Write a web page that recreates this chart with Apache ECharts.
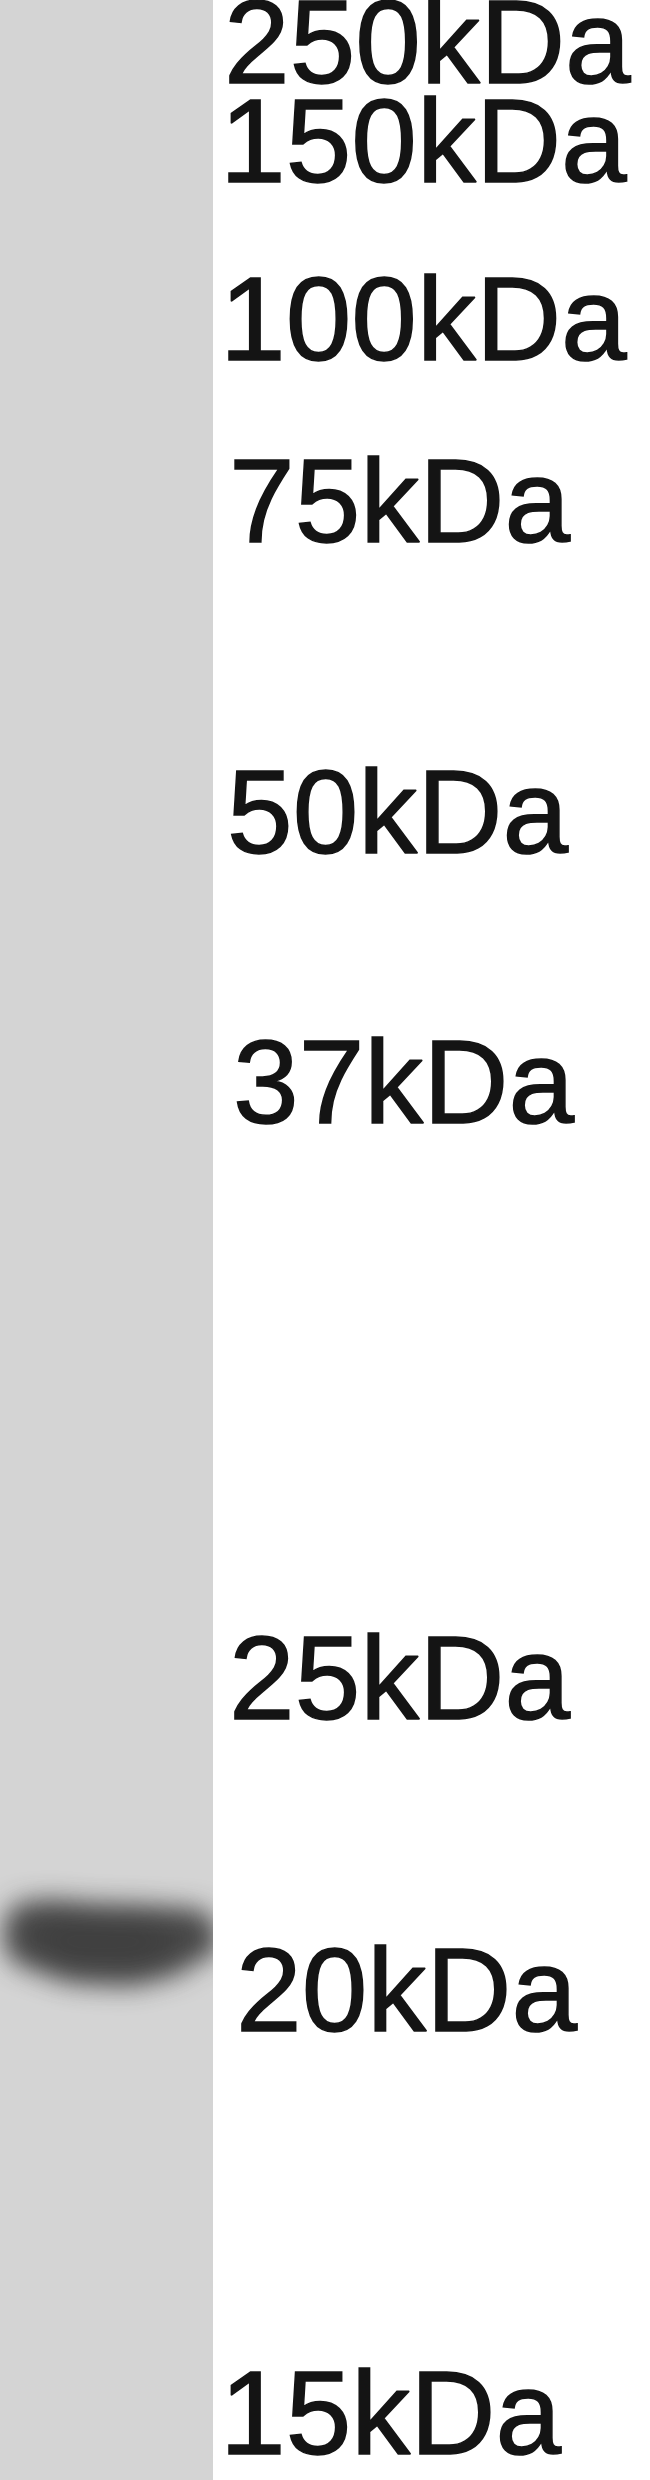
<!DOCTYPE html>
<html>
<head>
<meta charset="utf-8">
<script src="https://cdn.jsdelivr.net/npm/echarts@6/dist/echarts.min.js"></script>
<style>
  html, body { margin: 0; padding: 0; background: #fff; }
  #blot { width: 650px; height: 2480px; }
</style>
</head>
<body>
<div id="blot"></div>
<script>
// marker ladder, position = migration distance from top of the membrane (px)
var markerLabels = ['250kDa', '150kDa', '100kDa', '75kDa', '50kDa', '37kDa', '25kDa', '20kDa', '15kDa'];
var markerPositions = [50, 149, 327, 509, 820, 1090, 1686, 1998, 2421];

// bands detected in the lane
var bandPositions = [1938];
var bandIntensity = [0.82];

var LANE_LEFT = 0, LANE_RIGHT = 213;
// the ladder labels were not placed on one exact column
var labelLeft = [224, 220, 220, 229, 227, 233, 229, 236, 220];
var OFF = 1200; // band is drawn off-canvas, only its blurred shadow lands on the lane

var chart = echarts.init(document.getElementById('blot'), null, { devicePixelRatio: 1 });

function laneItem (params, api) {
  var a = api.coord([LANE_LEFT, 0]);
  var b = api.coord([LANE_RIGHT, 2480]);
  return {
    type: 'rect',
    shape: { x: a[0], y: a[1], width: b[0] - a[0], height: b[1] - a[1] },
    style: { fill: '#d4d4d4' }
  };
}

// outline of the band around its centre (x px, dy px)
var bandOutline = [
  [4, -2], [10, -25], [30, -36], [100, -33], [170, -30], [200, -27], [212, -18],
  [218, 0], [212, 18], [200, 22], [170, 38], [100, 46], [30, 30], [10, 18]
];
var bandCore = [
  [30, -4], [45, -20], [100, -22], [160, -18], [180, -4],
  [165, 22], [100, 30], [45, 22]
];

function blob (api, c, pts, alpha, blur) {
  var points = pts.map(function (p) {
    var x = api.coord([p[0], 0])[0];
    return [x - OFF, c + p[1]];
  });
  return {
    type: 'polygon',
    shape: { points: points, smooth: 0.6 },
    style: {
      fill: '#000',
      shadowBlur: blur,
      shadowOffsetX: OFF,
      shadowColor: 'rgba(44,44,44,' + alpha + ')'
    }
  };
}

function bandItem (params, api) {
  var pos = api.value(0);
  var k = api.value(1);
  var c = api.coord([0, pos])[1];
  return {
    type: 'group',
    children: [
      blob(api, c, bandOutline, k, 26),
      blob(api, c, bandCore, k * 0.42, 34)
    ]
  };
}

function maskItem (params, api) {
  var a = api.coord([LANE_RIGHT, 0]);
  var b = api.coord([650, 2480]);
  return {
    type: 'rect',
    shape: { x: a[0], y: a[1], width: b[0] - a[0], height: b[1] - a[1] },
    style: { fill: '#ffffff' }
  };
}

function labelItem (params, api) {
  var i = params.dataIndex;
  var p = api.coord([labelLeft[i], api.value(0)]);
  return {
    type: 'text',
    x: p[0],
    y: p[1],
    style: {
      text: markerLabels[i],
      fill: '#141414',
      stroke: '#141414',
      lineWidth: 1.5,
      font: '118px "Liberation Sans", Arial, sans-serif',
      align: 'left',
      verticalAlign: 'middle'
    }
  };
}

chart.setOption({
  animation: false,
  backgroundColor: '#ffffff',
  grid: { left: 0, right: 0, top: 0, bottom: 0 },
  xAxis: { type: 'value', min: 0, max: 650, show: false },
  yAxis: { type: 'value', min: 0, max: 2480, inverse: true, show: false },
  series: [
    { type: 'custom', renderItem: laneItem, data: [[0]], silent: true, z: 1 },
    {
      type: 'custom', renderItem: bandItem, silent: true, z: 2, clip: false,
      data: bandPositions.map(function (p, i) { return [p, bandIntensity[i]]; })
    },
    { type: 'custom', renderItem: maskItem, data: [[0]], silent: true, z: 3 },
    {
      type: 'custom', renderItem: labelItem, silent: true, z: 4,
      data: markerPositions.map(function (p) { return [p]; })
    }
  ]
});
</script>
</body>
</html>
